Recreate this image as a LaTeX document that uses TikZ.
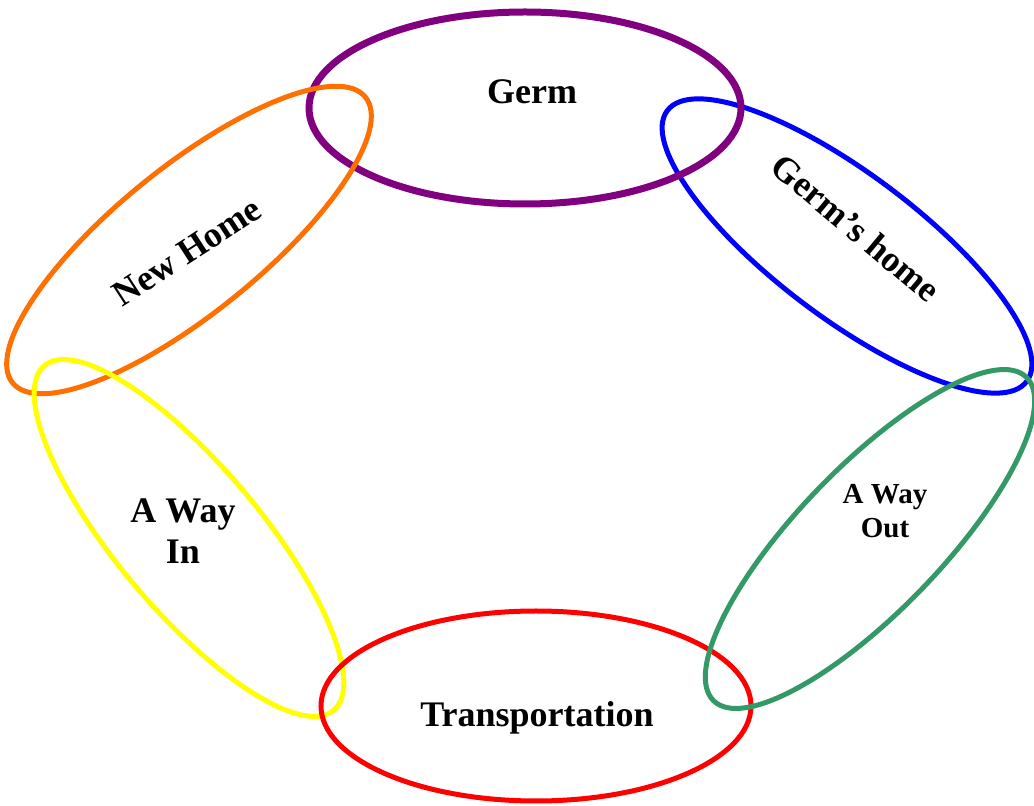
\documentclass[tikz,border=0pt]{standalone}
\usepackage{fontspec}
\setmainfont{Liberation Serif}
\definecolor{germpurple}{RGB}{128,0,128}
\definecolor{homeorange}{RGB}{255,112,0}
\definecolor{wayyellow}{RGB}{255,255,0}
\definecolor{waygreen}{RGB}{51,153,102}
\definecolor{transred}{RGB}{255,0,0}
\definecolor{germblue}{RGB}{0,0,255}
\tikzset{
  ring/.style={line width=5pt},
  lbl/.style={font=\bfseries\fontsize{36}{41}\selectfont, align=center, inner sep=0pt},
  lblsmall/.style={font=\bfseries\fontsize{29}{34}\selectfont, align=center, inner sep=0pt}
}
\begin{document}
\begin{tikzpicture}[x=1pt,y=1pt]
\useasboundingbox (0,0) rectangle (1034,806);
% ellipses (drawing order matches overlaps)
\draw[ring, germblue, rotate around={-37:(847,560)}] (847,560) ellipse [x radius=225, y radius=72];
\draw[ring, germpurple, line width=7pt] (525,698) ellipse [x radius=216, y radius=96];
\draw[ring, homeorange, rotate around={39:(189,566)}] (189,566) ellipse [x radius=227, y radius=73];
\draw[ring, wayyellow, rotate around={-50:(189,268)}] (189,268) ellipse [x radius=225, y radius=72];
\draw[ring, transred] (536,100) ellipse [x radius=215, y radius=95];
\draw[ring, waygreen, rotate around={46:(870,267)}] (870,267) ellipse [x radius=225, y radius=72];
% labels
\node[lbl] (germ) at (532,714) {Germ};
\node[lbl, rotate=-40] (germhome) at (856,578) {Germ’s home};
\node[lbl, rotate=33] (newhome) at (187,554) {New Home};
\node[lbl] (wayin) at (183,275) {A Way\\In};
\node[lblsmall] (wayout) at (885,295) {A Way\\Out};
\node[lbl] (transport) at (537,88) {Transportation};
\end{tikzpicture}
\end{document}
